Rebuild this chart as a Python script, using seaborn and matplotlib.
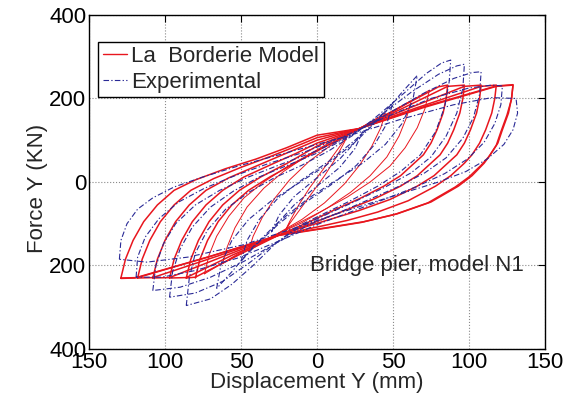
import matplotlib
matplotlib.use("Agg")
import matplotlib.pyplot as plt
from matplotlib.lines import Line2D
import pandas as pd
import seaborn as sns

# ---- La Borderie model, large cycles (loading branch then unloading branch) ----
model_c86_x = [-80, -77, -72, -65, -56, -45, -31, -15, 3, 28, 50, 80, 86,
               85, 83, 79, 75, 70, 64, 55, 44, 28, 12, -3, -14, -25, -50, -80, -86]
model_c86_y = [-230, -185, -140, -95, -55, -20, 12, 44, 80, 128, 170, 228, 232,
               200, 165, 125, 93, 65, 45, 15, -10, -40, -66, -92, -110, -127, -172, -228, -230]
model_c97_x = [-86, -83, -78, -71, -62, -51, -37, -20, 0, 28, 55, 86, 97,
               96, 94, 90, 86, 81, 75, 66, 55, 38, 20, 3, -10, -25, -55, -86, -97]
model_c97_y = [-230, -185, -140, -95, -55, -20, 12, 44, 86, 128, 174, 229, 232,
               200, 165, 125, 93, 65, 45, 15, -10, -40, -66, -90, -108, -127, -174, -229, -230]
model_c108_x = [-97, -94, -89, -82, -73, -62, -48, -30, -14, 0, 28, 60, 97, 108,
                107, 105, 101, 97, 92, 86, 77, 66, 48, 28, 10, -8, -25, -60, -97, -108]
model_c108_y = [-230, -185, -140, -95, -55, -20, 12, 42, 68, 93, 128, 176, 229, 232,
                200, 165, 125, 93, 65, 45, 15, -10, -42, -68, -88, -108, -127, -176, -229, -230]
model_c118_x = [-108, -105, -100, -93, -84, -73, -58, -40, -22, 0, 28, 65, 108, 118,
                117, 115, 111, 107, 102, 97, 88, 78, 60, 40, 20, 0, -25, -65, -108, -118]
model_c118_y = [-230, -185, -140, -95, -55, -20, 10, 38, 66, 100, 128, 177, 229, 232,
                200, 165, 125, 93, 65, 45, 15, -10, -45, -72, -92, -108, -127, -177, -229, -230]
model_c129_x = [-118, -115, -110, -103, -94, -83, -68, -50, -30, -12, 0, 28, 70, 118, 129,
                128, 126, 122, 119, 114, 110, 102, 93, 75, 53, 31, 9, -25, -70, -118, -129]
model_c129_y = [-230, -185, -140, -95, -55, -20, 8, 35, 62, 88, 106, 128, 178, 229, 232,
                200, 165, 125, 93, 65, 45, 15, -10, -48, -76, -95, -108, -127, -178, -229, -230]
model_c129b_x = [-129, -126, -121, -114, -105, -94, -80, -60, -40, -20, 0, 28, 70, 118, 129,
                 128, 125, 121, 118, 113, 108, 100, 91, 73, 51, 29, 7, -25, -72, -120, -129]
model_c129b_y = [-230, -185, -140, -95, -55, -20, 5, 32, 55, 82, 112, 128, 180, 230, 233,
                 198, 160, 120, 88, 60, 40, 12, -12, -50, -78, -97, -110, -128, -180, -230, -231]

# ---- La Borderie model, small early cycles (thin lines) ----
model_t22_x = [-22, -18, -12, -5, 3, 11, 18, 22, 18, 12, 5, -3, -11, -18, -22]
model_t22_y = [-125, -95, -55, -15, 25, 65, 100, 125, 95, 55, 15, -25, -65, -100, -125]
model_t45_x = [-45, -42, -36, -28, -18, -5, 10, 28, 45, 42, 36, 28, 18, 5, -10, -28, -45]
model_t45_y = [-165, -130, -85, -40, 5, 50, 90, 128, 165, 130, 85, 40, -5, -50, -90, -128, -165]
model_t62_x = [-62, -59, -54, -46, -35, -22, -7, 10, 28, 45, 62,
               59, 54, 46, 35, 22, 7, -10, -28, -45, -62]
model_t62_y = [-195, -155, -110, -60, -15, 25, 62, 98, 128, 160, 195,
               155, 110, 60, 15, -25, -62, -98, -128, -160, -195]
model_t74_x = [-74, -71, -66, -58, -48, -35, -20, -2, 28, 52, 74,
               71, 66, 58, 48, 35, 20, 2, -28, -52, -74]
model_t74_y = [-220, -175, -130, -82, -38, 0, 36, 72, 128, 172, 220,
               175, 130, 82, 38, 0, -36, -72, -128, -172, -220]

# ---- Experimental cycles ----
exp_b1_x = [-86, -84, -80, -72, -60, -45, -28, -10, 8, 25, 42, 58, 72, 82, 88,
            87, 84, 78, 68, 55, 40, 22, 5, -12, -28, -42, -56, -70, -86]
exp_b1_y = [-296, -230, -170, -115, -65, -25, 10, 40, 75, 115, 165, 215, 260, 285, 292,
            240, 180, 120, 65, 25, -10, -45, -75, -105, -150, -200, -245, -280, -296]
exp_b2_x = [-97, -95, -90, -82, -70, -55, -38, -18, 2, 22, 42, 62, 80, 92, 97,
            96, 92, 85, 75, 62, 45, 26, 8, -10, -28, -45, -62, -80, -97]
exp_b2_y = [-276, -215, -160, -108, -60, -22, 12, 42, 72, 110, 160, 215, 258, 278, 282,
            225, 165, 110, 60, 22, -12, -45, -75, -105, -148, -195, -238, -266, -276]
exp_b3_x = [-108, -106, -101, -93, -80, -64, -45, -24, -2, 20, 45, 70, 90, 102, 108,
            107, 103, 96, 85, 71, 53, 33, 14, -6, -26, -48, -70, -90, -108]
exp_b3_y = [-260, -200, -148, -100, -55, -20, 12, 42, 72, 108, 160, 212, 248, 262, 264,
            210, 155, 105, 58, 22, -12, -44, -74, -104, -145, -190, -228, -252, -260]
exp_b4_x = [-119, -118, -113, -104, -91, -74, -54, -32, -8, 16, 45, 75, 100, 115, 122,
            121, 117, 110, 99, 84, 65, 44, 22, 0, -24, -52, -80, -102, -119]
exp_b4_y = [-228, -180, -132, -88, -48, -15, 15, 44, 72, 106, 155, 200, 225, 232, 230,
            185, 140, 95, 55, 20, -12, -42, -72, -102, -140, -182, -212, -228, -228]
exp_b5_x = [-130, -129, -125, -118, -108, -94, -75, -52, -28, -4, 22, 55, 90, 115, 131,
            132, 129, 123, 112, 98, 80, 58, 34, 10, -16, -48, -85, -112, -130]
exp_b5_y = [-185, -140, -100, -65, -38, -12, 12, 38, 62, 86, 112, 150, 185, 202, 200,
            165, 125, 90, 55, 25, 0, -25, -52, -80, -112, -150, -180, -192, -185]
exp_s30_x = [-30, -25, -15, 0, 15, 25, 30, 25, 15, 0, -15, -25, -30]
exp_s30_y = [-120, -80, -35, 10, 55, 95, 120, 80, 35, -10, -55, -95, -120]
exp_s50_x = [-50, -46, -38, -26, -10, 8, 25, 40, 50, 46, 38, 26, 10, -8, -25, -40, -50]
exp_s50_y = [-190, -140, -90, -40, 5, 50, 100, 150, 190, 140, 90, 40, -5, -50, -100, -150, -190]
exp_s66_x = [-66, -63, -56, -45, -30, -13, 6, 25, 42, 56, 66,
             63, 56, 45, 30, 13, -6, -25, -42, -56, -66]
exp_s66_y = [-255, -195, -140, -90, -45, -5, 40, 95, 155, 215, 255,
             195, 140, 90, 45, 5, -40, -95, -155, -215, -255]

x_ticks = [-150, -100, -50, 0, 50, 100, 150]
x_tick_labels = ["150", "100", "50", "0", "50", "100", "150"]
y_ticks = [-400, -200, 0, 200, 400]
y_tick_labels = ["400", "200", "0", "200", "400"]


def to_frame(loops):
    parts = []
    for name, xs, ys in loops:
        parts.append(pd.DataFrame({"disp": xs, "force": ys, "loop": name}))
    return pd.concat(parts, ignore_index=True)


model_big = to_frame([
    ("c86", model_c86_x, model_c86_y),
    ("c97", model_c97_x, model_c97_y),
    ("c108", model_c108_x, model_c108_y),
    ("c118", model_c118_x, model_c118_y),
    ("c129", model_c129_x, model_c129_y),
    ("c129b", model_c129b_x, model_c129b_y),
])
model_small = to_frame([
    ("t22", model_t22_x, model_t22_y),
    ("t45", model_t45_x, model_t45_y),
    ("t62", model_t62_x, model_t62_y),
    ("t74", model_t74_x, model_t74_y),
])
experimental = to_frame([
    ("s30", exp_s30_x, exp_s30_y),
    ("s50", exp_s50_x, exp_s50_y),
    ("s66", exp_s66_x, exp_s66_y),
    ("b1", exp_b1_x, exp_b1_y),
    ("b2", exp_b2_x, exp_b2_y),
    ("b3", exp_b3_x, exp_b3_y),
    ("b4", exp_b4_x, exp_b4_y),
    ("b5", exp_b5_x, exp_b5_y),
])

sns.set_style("white")
plt.rcParams["font.family"] = ["Liberation Sans", "DejaVu Sans"]

red = "#e8161e"
blue = "#2a2a96"
dashdot = (0, (5, 2, 1.2, 2))

fig = plt.figure(figsize=(5.65, 4.01), dpi=100)
ax = fig.add_axes([0.1575, 0.1297, 0.807, 0.833])

sns.lineplot(data=model_small, x="disp", y="force", units="loop", estimator=None,
             sort=False, color=red, linewidth=0.7, ax=ax)
sns.lineplot(data=model_big, x="disp", y="force", units="loop", estimator=None,
             sort=False, color=red, linewidth=1.1, ax=ax)
sns.lineplot(data=experimental, x="disp", y="force", units="loop", estimator=None,
             sort=False, color=blue, linewidth=0.8, linestyle=dashdot, ax=ax)

ax.set_xlim(-150, 150)
ax.set_ylim(-400, 400)
ax.set_xticks(x_ticks)
ax.set_xticklabels(x_tick_labels)
ax.set_yticks(y_ticks)
ax.set_yticklabels(y_tick_labels)
ax.tick_params(direction="in", length=5, width=0.8, labelsize=16, pad=2,
               top=True, right=True, colors="black")
ax.grid(True, linestyle=":", color="#8a8a8a", linewidth=0.8)
for spine in ax.spines.values():
    spine.set_color("black")
    spine.set_linewidth(1.0)

ax.set_xlabel("Displacement Y (mm)", fontsize=16)
ax.set_ylabel("Force Y (KN)", fontsize=16)
ax.xaxis.set_label_coords(0.5, -0.068)
ax.yaxis.set_label_coords(-0.09, 0.48)

ax.text(66, -200, "Bridge pier, model N1", fontsize=16, ha="center", va="center")

handles = [
    Line2D([], [], color=red, linewidth=1.0),
    Line2D([], [], color=blue, linewidth=0.8, linestyle=dashdot),
]
leg = ax.legend(handles, ["La  Borderie Model", "Experimental"], loc="upper left",
                bbox_to_anchor=(0.02, 0.92), fontsize=16, frameon=True, fancybox=False,
                borderpad=0.2, labelspacing=0.22, handlelength=1.1, handletextpad=0.2,
                borderaxespad=0)
leg.get_frame().set_edgecolor("black")
leg.get_frame().set_linewidth(1.0)
leg.get_frame().set_facecolor("white")
leg.get_frame().set_alpha(1)

fig.savefig("out.png", dpi=100)
